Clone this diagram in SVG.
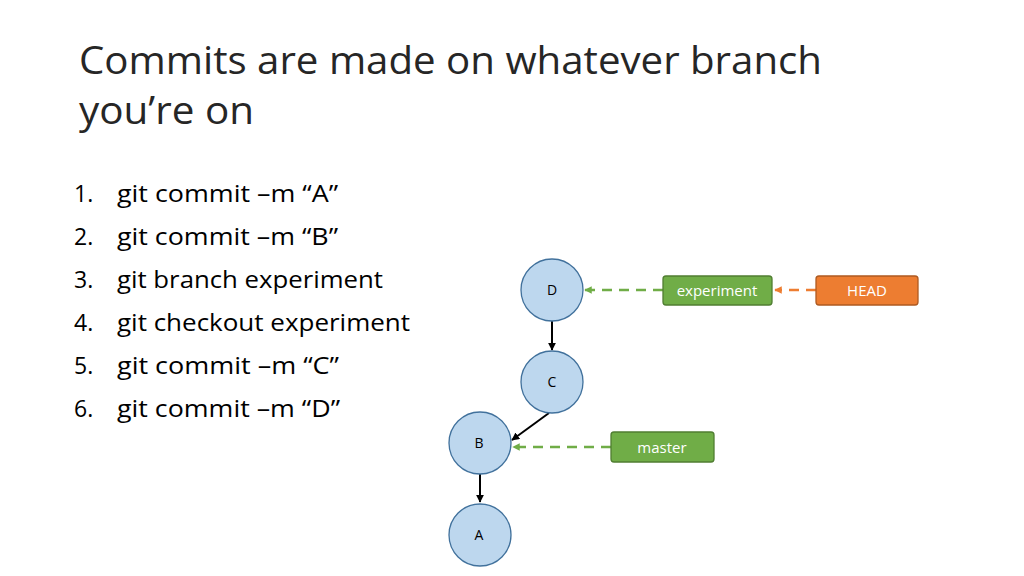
<svg xmlns="http://www.w3.org/2000/svg" width="1024" height="576" viewBox="0 0 1024 576">
<style>
text{font-family:"Open Sans",Lato,sans-serif}
.t{font-size:39px;fill:#262626}
.l{font-size:23px;fill:#000}
.c{fill:#bdd7ee;stroke:#41719c;stroke-width:1.3}
.n{font-size:14px;fill:#000;text-anchor:middle}
.g{fill:#70ad47;stroke:#507e32;stroke-width:1.3}
.o{fill:#ed7d31;stroke:#ae5a21;stroke-width:1.3}
.w{font-size:15px;fill:#fff;text-anchor:middle}
.k{stroke:#000;stroke-width:2;fill:none}
.dg{stroke:#70ad47;stroke-width:2.5;stroke-dasharray:10 7;fill:none}
.do{stroke:#ed7d31;stroke-width:2.5;stroke-dasharray:10 7;fill:none}
</style>
<defs>
<marker id="ak" viewBox="0 0 10 10" refX="9" refY="5" markerWidth="4" markerHeight="4" orient="auto"><path d="M0,0L10,5L0,10z" fill="#000"/></marker>
<marker id="ag" viewBox="0 0 10 10" refX="9" refY="5" markerWidth="3" markerHeight="3" orient="auto"><path d="M0,0L10,5L0,10z" fill="#70ad47"/></marker>
<marker id="ao" viewBox="0 0 10 10" refX="9" refY="5" markerWidth="3" markerHeight="3" orient="auto"><path d="M0,0L10,5L0,10z" fill="#ed7d31"/></marker>
</defs>
<text class="t" x="79" y="74" textLength="743" lengthAdjust="spacingAndGlyphs">Commits are made on whatever branch</text>
<text class="t" x="79" y="124" textLength="175" lengthAdjust="spacingAndGlyphs">you’re on</text>
<g class="l">
<text x="74" y="202">1.</text><text x="117" y="202" textLength="221" lengthAdjust="spacingAndGlyphs">git commit –m “A”</text>
<text x="74" y="245">2.</text><text x="117" y="245" textLength="221" lengthAdjust="spacingAndGlyphs">git commit –m “B”</text>
<text x="74" y="288">3.</text><text x="117" y="288" textLength="266" lengthAdjust="spacingAndGlyphs">git branch experiment</text>
<text x="74" y="331">4.</text><text x="117" y="331" textLength="293" lengthAdjust="spacingAndGlyphs">git checkout experiment</text>
<text x="74" y="374">5.</text><text x="117" y="374" textLength="222" lengthAdjust="spacingAndGlyphs">git commit –m “C”</text>
<text x="74" y="417">6.</text><text x="117" y="417" textLength="223" lengthAdjust="spacingAndGlyphs">git commit –m “D”</text>
</g>
<g id="connectors">
<line class="k" x1="552" y1="321" x2="552" y2="350" marker-end="url(#ak)"/>
<line class="k" x1="549" y1="413" x2="512" y2="440" marker-end="url(#ak)"/>
<line class="k" x1="480" y1="474" x2="480" y2="502" marker-end="url(#ak)"/>
<line class="dg" x1="663" y1="290" x2="585" y2="290" marker-end="url(#ag)"/>
<line class="do" x1="816" y1="290" x2="775" y2="290" marker-end="url(#ao)"/>
<line class="dg" x1="611" y1="447" x2="513" y2="447" marker-end="url(#ag)"/>
</g>
<g id="D"><circle class="c" cx="552" cy="290" r="31"/><text class="n" x="552" y="295">D</text></g>
<g id="C"><circle class="c" cx="552" cy="382" r="31"/><text class="n" x="552" y="387">C</text></g>
<g id="B"><circle class="c" cx="480" cy="443" r="31"/><text class="n" x="479" y="448">B</text></g>
<g id="A"><circle class="c" cx="480" cy="535" r="31"/><text class="n" x="479" y="540">A</text></g>
<g id="experiment"><rect class="g" x="663" y="276" width="109" height="29" rx="3"/><text class="w" x="717" y="296">experiment</text></g>
<g id="HEAD"><rect class="o" x="816" y="276" width="102" height="29" rx="3"/><text class="w" x="867" y="296">HEAD</text></g>
<g id="master"><rect class="g" x="611" y="432" width="103" height="30" rx="3"/><text class="w" x="662" y="453">master</text></g>
</svg>
